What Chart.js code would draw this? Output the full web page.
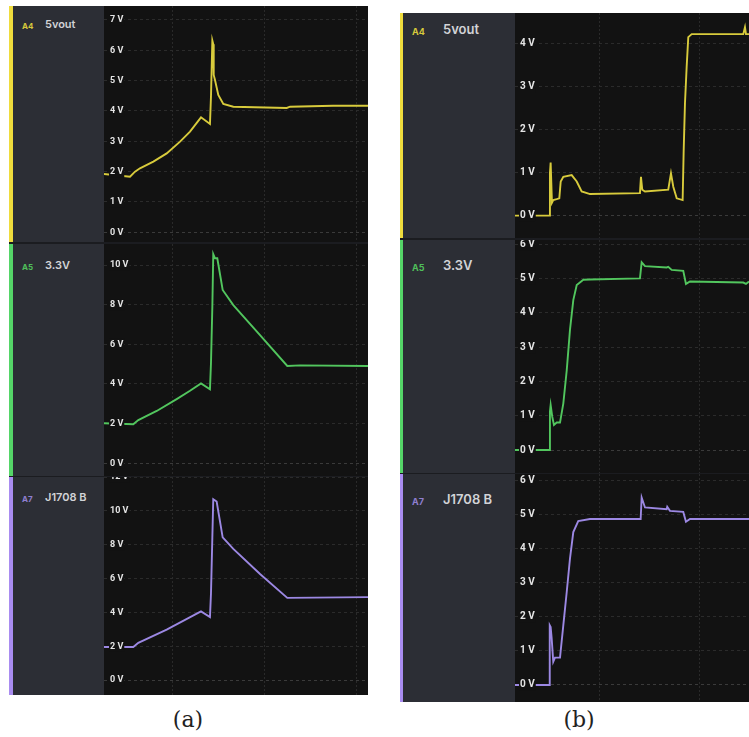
<!DOCTYPE html>
<html>
<head>
<meta charset="utf-8">
<script src="https://cdn.jsdelivr.net/npm/chart.js@4.4.1/dist/chart.umd.min.js"></script>
<style>
body { margin: 0; background: #fff; width: 749px; height: 737px; position: relative; overflow: hidden; font-family: Inter, Roboto, sans-serif; }
.frame { position: absolute; background: #1b1c20; }
.row { position: absolute; left: 0; background: #121212; overflow: hidden; }
.edge { position: absolute; left: 0; top: 0; bottom: 0; }
.side { position: absolute; top: 0; bottom: 0; background: #2c2e35; }
.ch { position: absolute; font-weight: 700; line-height: 1; white-space: nowrap; }
.nm { position: absolute; font-weight: 600; color: #d2d3d7; line-height: 1; white-space: nowrap; }
canvas { position: absolute; top: 0; }
.cap { position: absolute; font-family: "DejaVu Serif", serif; font-size: 22px; text-align: center; width: 60px; line-height: 30px; color: #222; }
</style>
</head>
<body>
<script>
var channels = ['A4', 'A5', 'A7'];
var channelNames = ['5vout', '3.3V', 'J1708 B'];
var channelColors = ['#d8cb3c', '#52c65e', '#9c88e3'];
var edgeColors = ['#efdc3d', '#55d568', '#a98cf0'];
var tagColors = ['#d7c93c', '#4fbf5a', '#8f7fd0'];

// (a) time in ms, grid every 100 ms
var timeGridA = [0, 100, 200];
var tA4a = [-75.4, -47.0, -41.5, -36.1, -21.5, -6.9, 7.7, 18.6, 30.6, 40.4, 41.5, 43.0, 44.0, 44.5, 45.9, 49.5, 55.0, 65.9, 124.3, 127.9, 174.9, 213.1];
var vA4a = [1.92, 1.83, 2.0, 2.11, 2.33, 2.6, 2.99, 3.32, 3.79, 3.57, 4.47, 6.32, 6.2, 5.19, 5.02, 4.53, 4.23, 4.14, 4.1, 4.14, 4.17, 4.17];
var tA5a = [-75.4, -43.4, -37.9, -17.8, 4.0, 18.6, 30.6, 40.4, 41.5, 43.0, 44.0, 45.9, 48.4, 54.3, 65.9, 95.1, 124.9, 138.8, 213.1];
var vA5a = [2.02, 1.97, 2.18, 2.64, 3.24, 3.66, 4.03, 3.73, 5.04, 7.9, 10.55, 10.34, 10.34, 8.74, 7.98, 6.47, 4.91, 4.94, 4.91];
var tA7a = [-75.4, -43.4, -37.9, -6.9, 30.6, 40.4, 41.5, 43.0, 44.0, 47.7, 54.3, 65.9, 95.1, 124.9, 213.1];
var vA7a = [1.96, 1.96, 2.2, 2.98, 4.06, 3.73, 5.1, 8.43, 10.69, 10.55, 8.43, 7.75, 6.27, 4.86, 4.9];

// (b)
var timeGridB = [0, 100, 200];
var tA4b = [-83.7, -49.7, -49.0, -48.3, -47.0, -45.7, -42.3, -39.7, -38.3, -35.7, -27.4, -22.4, -17.5, -9.2, 40.4, 41.4, 42.7, 45.4, 68.5, 71.2, 73.5, 76.9, 82.8, 83.8, 85.1, 86.8, 88.4, 91.8, 143.0, 144.7, 145.7, 148.7];
var vA4b = [0, 0, 0.98, 1.23, 0.3, 0.36, 0.38, 0.4, 0.79, 0.9, 0.94, 0.79, 0.56, 0.5, 0.52, 0.9, 0.6, 0.56, 0.6, 0.98, 0.67, 0.4, 0.36, 1.48, 2.6, 3.46, 4.14, 4.21, 4.21, 4.37, 4.21, 4.21];
var tA5b = [-83.7, -49.7, -49.0, -48.3, -46.7, -45.0, -42.3, -39.0, -35.7, -32.3, -29.1, -25.8, -22.4, -15.8, -9.2, 40.4, 42.1, 45.4, 66.9, 68.5, 71.9, 83.4, 86.1, 90.1, 143.0, 145.7, 148.7];
var vA5b = [0, 0, 1.12, 1.31, 0.97, 0.73, 0.8, 0.8, 1.36, 2.33, 3.5, 4.37, 4.81, 4.96, 4.97, 5.0, 5.47, 5.36, 5.32, 5.34, 5.25, 5.22, 4.84, 4.91, 4.88, 4.84, 4.91];
var tA7b = [-83.7, -49.7, -49.2, -48.3, -47.3, -45.7, -44.0, -39.0, -35.7, -32.3, -29.1, -25.8, -20.9, -9.2, 41.1, 42.1, 45.4, 66.9, 67.5, 70.2, 83.4, 86.1, 90.1, 148.7];
var vA7b = [0, 0, 1.75, 1.7, 1.37, 0.68, 0.8, 0.8, 1.75, 2.73, 3.7, 4.48, 4.8, 4.86, 4.86, 5.49, 5.2, 5.15, 5.22, 5.1, 5.07, 4.78, 4.86, 4.86];

var panels = [
    {
        left: 9, top: 6, width: 359, edge: 4, side: 91, tagX: 13, nameX: 36, tagSize: 8, nameSize: 11, tickSize: 9, tickPad: 6,
        xMin: -75.4, xMax: 213.1, grid: timeGridA,
        rows: [
            {top: 0, height: 236, t: tA4a, v: vA4a, min: -0.32, max: 7.46, step: 1, base: 23},
            {top: 238, height: 232, t: tA5a, v: vA5a, min: -0.64, max: 11.06, step: 2, base: 26},
            {top: 471, height: 218, t: tA7a, v: vA7a, min: -0.88, max: 12, step: 2, base: 25}
        ]
    },
    {
        left: 400, top: 13, width: 349, edge: 3, side: 112, tagX: 12, nameX: 43, tagSize: 9, nameSize: 13, tickSize: 10, tickPad: 5,
        xMin: -83.7, xMax: 148.7, grid: timeGridB,
        rows: [
            {top: 0, height: 225, t: tA4b, v: vA4b, min: -0.52, max: 4.70, step: 1, base: 22},
            {top: 227, height: 233, t: tA5b, v: vA5b, min: -0.67, max: 6.12, step: 1, base: 31},
            {top: 461, height: 228, t: tA7b, v: vA7b, min: -0.50, max: 6.18, step: 1, base: 31}
        ]
    }
];

function makeChart(canvas, p, r, i) {
    var points = r.t.map(function(t, k) { return {x: t, y: r.v[k]}; });
    return new Chart(canvas, {
        type: 'line',
        data: {
            datasets: [{
                data: points,
                borderColor: channelColors[i],
                borderWidth: 1.9,
                pointRadius: 0,
                tension: 0
            }]
        },
        options: {
            responsive: false,
            animation: false,
            devicePixelRatio: 1,
            layout: {padding: 0},
            plugins: {legend: {display: false}, tooltip: {enabled: false}},
            scales: {
                x: {
                    type: 'linear',
                    min: p.xMin,
                    max: p.xMax,
                    afterBuildTicks: function(s) {
                        s.ticks = p.grid.map(function(g) { return {value: g}; });
                    },
                    ticks: {display: false},
                    grid: {color: '#2a2a2a', drawTicks: false},
                    border: {display: false, dash: [2, 2]}
                },
                y: {
                    min: r.min,
                    max: r.max,
                    afterFit: function(s) {
                        s.width = 0;
                        s.paddingTop = 0;
                        s.paddingBottom = 0;
                    },
                    ticks: {
                        stepSize: r.step,
                        includeBounds: false,
                        mirror: true,
                        padding: p.tickPad,
                        z: 1,
                        color: '#e4e4e4',
                        font: {family: 'Roboto', size: p.tickSize, weight: 'bold'},
                        showLabelBackdrop: true,
                        backdropColor: '#121212',
                        backdropPadding: {x: 1, y: 0},
                        callback: function(v) { return v + ' V'; }
                    },
                    grid: {
                        color: function(c) { return c.tick && c.tick.value === 0 ? '#3a3a3a' : '#2b2b2b'; },
                        drawTicks: false
                    },
                    border: {display: false, dash: [3, 3]}
                }
            }
        }
    });
}

panels.forEach(function(p) {
    var last = p.rows[p.rows.length - 1];
    var frame = document.createElement('div');
    frame.className = 'frame';
    frame.style.left = p.left + 'px';
    frame.style.top = p.top + 'px';
    frame.style.width = p.width + 'px';
    frame.style.height = (last.top + last.height) + 'px';
    document.body.appendChild(frame);

    p.rows.forEach(function(r, i) {
        var row = document.createElement('div');
        row.className = 'row';
        row.style.top = r.top + 'px';
        row.style.width = p.width + 'px';
        row.style.height = r.height + 'px';
        frame.appendChild(row);

        var edge = document.createElement('div');
        edge.className = 'edge';
        edge.style.width = p.edge + 'px';
        edge.style.background = edgeColors[i];
        row.appendChild(edge);

        var side = document.createElement('div');
        side.className = 'side';
        side.style.left = p.edge + 'px';
        side.style.width = p.side + 'px';
        row.appendChild(side);

        var tag = document.createElement('div');
        tag.className = 'ch';
        tag.textContent = channels[i];
        tag.style.color = tagColors[i];
        tag.style.fontSize = p.tagSize + 'px';
        tag.style.left = (p.tagX - p.edge) + 'px';
        tag.style.top = (r.base - p.tagSize * 0.9) + 'px';
        side.appendChild(tag);

        var name = document.createElement('div');
        name.className = 'nm';
        name.textContent = channelNames[i];
        name.style.fontSize = p.nameSize + 'px';
        name.style.left = (p.nameX - p.edge) + 'px';
        name.style.top = (r.base - p.nameSize * 0.9) + 'px';
        side.appendChild(name);

        var canvas = document.createElement('canvas');
        var plotW = p.width - p.edge - p.side;
        canvas.width = plotW;
        canvas.height = r.height;
        canvas.style.left = (p.edge + p.side) + 'px';
        canvas.style.width = plotW + 'px';
        canvas.style.height = r.height + 'px';
        row.appendChild(canvas);
        makeChart(canvas, p, r, i);
    });
});

var capA = document.createElement('div');
capA.className = 'cap';
capA.textContent = '(a)';
capA.style.left = '158px';
capA.style.top = '705px';
document.body.appendChild(capA);

var capB = document.createElement('div');
capB.className = 'cap';
capB.textContent = '(b)';
capB.style.left = '549px';
capB.style.top = '705px';
document.body.appendChild(capB);
</script>
</body>
</html>
